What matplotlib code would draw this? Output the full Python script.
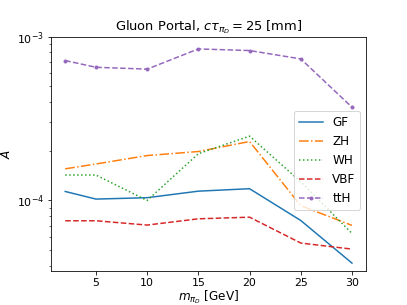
import numpy as np
import matplotlib
matplotlib.use("Agg")
import matplotlib.pyplot as plt

# pion mass points [GeV]
mass = [2, 5, 10, 15, 20, 25, 30]

# acceptance per production mode
A_GF = [1.135e-4, 1.02e-4, 1.04e-4, 1.14e-4, 1.18e-4, 7.55e-5, 4.15e-5]
A_ZH = [1.56e-4, 1.67e-4, 1.88e-4, 1.99e-4, 2.29e-4, 9.3e-5, 7.05e-5]
A_WH = [1.43e-4, 1.43e-4, 1.0e-4, 1.93e-4, 2.47e-4, 1.30e-4, 6.3e-5]
A_VBF = [7.52e-5, 7.52e-5, 7.08e-5, 7.73e-5, 7.91e-5, 5.5e-5, 5.05e-5]
A_ttH = [7.14e-4, 6.50e-4, 6.33e-4, 8.41e-4, 8.22e-4, 7.31e-4, 3.71e-4]

fig = plt.figure(figsize=(407/72, 305/72), dpi=72)

plt.plot(mass, A_GF, '-', label='GF')
plt.plot(mass, A_ZH, '-.', label='ZH')
plt.plot(mass, A_WH, ':', label='WH')
plt.plot(mass, A_VBF, '--', label='VBF')
plt.plot(mass, A_ttH, '--', marker='.', label='ttH')

plt.yscale('log')
plt.ylim(3.69e-5, 1e-3)
plt.tick_params(axis='both', which='major', labelsize=11)
plt.xlabel(r'$m_{\pi_D}$ [GeV]', fontsize=12, labelpad=0)
plt.ylabel(r'$A$', fontsize=12)
plt.title(r'Gluon Portal, $c\tau_{\pi_D} = 25$ [mm]', fontsize=13)
plt.legend(loc='center right', bbox_to_anchor=(1.0, 0.473), fontsize=12)

plt.savefig('out.png', dpi=72)
